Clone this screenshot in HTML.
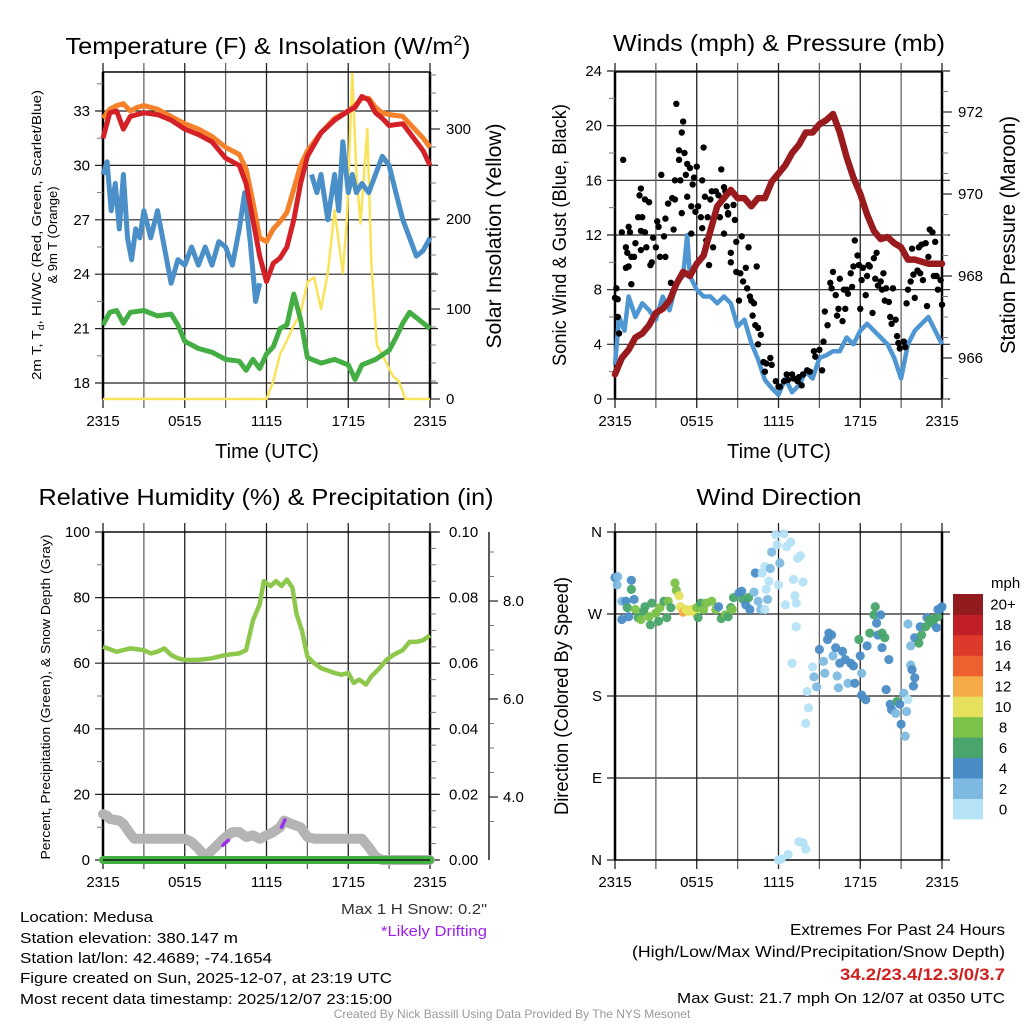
<!DOCTYPE html>
<html><head><meta charset="utf-8"><title>Medusa Meteogram</title>
<style>
html,body{margin:0;padding:0;background:#fff;}
svg{display:block;font-family:"Liberation Sans",Arial,sans-serif;}
</style></head>
<body>
<svg id="fig" width="1024" height="1024" viewBox="0 0 1024 1024" xmlns="http://www.w3.org/2000/svg">
<rect x="0" y="0" width="1024" height="1024" fill="#fff"/>
<!-- Titles -->
<text x="268" y="54" font-size="23" text-anchor="middle" textLength="405" lengthAdjust="spacingAndGlyphs">Temperature (F) &amp; Insolation (W/m<tspan dy="-9" font-size="14">2</tspan><tspan dy="9">)</tspan></text>
<text x="779" y="51" font-size="23" text-anchor="middle" textLength="332" lengthAdjust="spacingAndGlyphs">Winds (mph) &amp; Pressure (mb)</text>
<text x="266" y="505" font-size="23" text-anchor="middle" textLength="455" lengthAdjust="spacingAndGlyphs">Relative Humidity (%) &amp; Precipitation (in)</text>
<text x="779" y="505" font-size="23" text-anchor="middle" textLength="165" lengthAdjust="spacingAndGlyphs">Wind Direction</text>
<!-- Axis titles -->
<text x="267" y="458" font-size="20" text-anchor="middle">Time (UTC)</text>
<text x="779" y="458" font-size="20" text-anchor="middle">Time (UTC)</text>
<text transform="translate(41,235) rotate(-90)" font-size="13" text-anchor="middle" textLength="290" lengthAdjust="spacingAndGlyphs">2m T, T<tspan dy="3" font-size="9">d</tspan><tspan dy="-3">, HI/WC (Red, Green, Scarlet/Blue)</tspan></text>
<text transform="translate(57,235) rotate(-90)" font-size="13" text-anchor="middle">&amp; 9m T (Orange)</text>
<text transform="translate(501,236) rotate(-90)" font-size="21" text-anchor="middle" textLength="225" lengthAdjust="spacingAndGlyphs">Solar Insolation (Yellow)</text>
<text transform="translate(566,235) rotate(-90)" font-size="19" text-anchor="middle" textLength="262" lengthAdjust="spacingAndGlyphs">Sonic Wind &amp; Gust (Blue, Black)</text>
<text transform="translate(1015,235) rotate(-90)" font-size="21" text-anchor="middle" textLength="238" lengthAdjust="spacingAndGlyphs">Station Pressure (Maroon)</text>
<text transform="translate(50,697) rotate(-90)" font-size="13" text-anchor="middle" textLength="325" lengthAdjust="spacingAndGlyphs">Percent, Precipitation (Green), &amp; Snow Depth (Gray)</text>
<text transform="translate(568,696) rotate(-90)" font-size="19" text-anchor="middle" textLength="238" lengthAdjust="spacingAndGlyphs">Direction (Colored By Speed)</text>
<!-- Footer text -->
<g font-size="15">
<text x="20" y="922" textLength="133" lengthAdjust="spacingAndGlyphs">Location: Medusa</text>
<text x="20" y="943" textLength="218" lengthAdjust="spacingAndGlyphs">Station elevation: 380.147 m</text>
<text x="20" y="963" textLength="252" lengthAdjust="spacingAndGlyphs">Station lat/lon: 42.4689; -74.1654</text>
<text x="20" y="983" textLength="372" lengthAdjust="spacingAndGlyphs">Figure created on Sun, 2025-12-07, at 23:19 UTC</text>
<text x="20" y="1004" textLength="372" lengthAdjust="spacingAndGlyphs">Most recent data timestamp: 2025/12/07 23:15:00</text>
</g>
<text x="487" y="914" font-size="15" text-anchor="end" fill="#333" textLength="146" lengthAdjust="spacingAndGlyphs">Max 1 H Snow: 0.2"</text>
<text x="487" y="936" font-size="15" text-anchor="end" fill="#a020f0" textLength="106" lengthAdjust="spacingAndGlyphs">*Likely Drifting</text>
<text x="1005" y="935" font-size="16" text-anchor="end" textLength="215" lengthAdjust="spacingAndGlyphs">Extremes For Past 24 Hours</text>
<text x="1005" y="957" font-size="16" text-anchor="end" textLength="373" lengthAdjust="spacingAndGlyphs">(High/Low/Max Wind/Precipitation/Snow Depth)</text>
<text x="1005" y="980" font-size="17" font-weight="bold" text-anchor="end" fill="#d02020" textLength="165" lengthAdjust="spacingAndGlyphs">34.2/23.4/12.3/0/3.7</text>
<text x="1005" y="1003" font-size="15" text-anchor="end" textLength="328" lengthAdjust="spacingAndGlyphs">Max Gust: 21.7 mph On 12/07 at 0350 UTC</text>
<text x="512" y="1018" font-size="12" text-anchor="middle" fill="#999">Created By Nick Bassill Using Data Provided By The NYS Mesonet</text>
<g id="plots"></g>
</svg>
<script>
// ---- Data ----
const timeTickHours = [0,3,6,9,12,15,18,21,24];
const timeTickLabels = ["2315","","0515","","1115","","1715","","2315"];

const tempHours = [0,0.5,1,1.5,2,2.5,3,4,5,6,7,8,9,10,10.5,11,11.5,12,12.5,13,13.5,14,14.5,15,16,17,18,18.5,19,19.5,20,20.5,21,22,23,23.5,24];
const tempRed   = [31.5,32.9,33.0,32.0,32.7,32.8,32.9,32.8,32.5,32.0,31.7,31.3,30.4,30.0,29.0,27.0,25.0,23.6,24.6,24.9,25.5,27.0,29.0,30.5,31.8,32.5,33.0,33.2,33.8,33.6,32.9,32.6,32.2,32.3,31.3,30.8,30.0];
const tempOrange= [32.6,33.1,33.3,33.4,33.0,33.2,33.3,33.1,32.7,32.3,32.0,31.6,31.0,30.6,29.8,28.0,26.0,25.8,26.5,26.9,27.4,28.7,30.0,30.8,31.8,32.6,33.0,33.3,33.7,33.7,33.2,32.9,32.8,32.7,31.9,31.5,31.0];
const blueHours = [0,0.3,0.6,0.9,1.2,1.5,1.8,2.1,2.4,2.7,3,3.5,4,4.5,5,5.5,6,6.5,7,7.5,8,8.5,9,9.5,10,10.4,10.8,11.2,11.5,11.8,15.3,15.7,16,16.5,17,17.3,17.6,18,18.3,18.6,19,19.5,20,20.5,21,21.5,22,22.5,23,23.5,24];
const tempBlue  = [29.5,30.2,27.5,29.0,26.5,29.5,26.0,24.8,26.5,26.0,27.5,26.0,27.5,25.5,23.5,24.8,24.5,25.5,24.5,25.5,24.5,25.8,25.5,24.5,26.5,28.5,25.8,22.5,23.5,null,29.5,28.5,29.5,27.0,29.5,27.5,31.3,28.5,29.5,28.5,29.0,28.5,29.5,30.5,30.0,28.5,27.0,26.0,25.0,25.3,26.0];
const greenHours= [0,0.5,1,1.5,2,3,4,5,5.5,6,7,8,9,10,10.5,11,11.5,12,12.5,13,13.5,14,14.5,15,16,17,18,18.5,19,20,21,21.5,22,22.5,23,24];
const tempGreen = [21.2,21.9,22.0,21.3,21.9,22.0,21.7,21.8,21.2,20.3,19.9,19.7,19.3,19.2,18.7,19.3,18.8,19.6,20.0,21.0,21.2,22.9,21.5,19.4,19.1,19.3,19.0,18.2,19.0,19.3,19.8,20.5,21.3,21.9,21.6,21.0];
const solarHours = [0,12,12.5,13,13.5,14,14.5,15,15.5,16,16.5,17,17.6,17.9,18.3,18.6,18.9,19.4,19.7,20.1,20.8,21.3,21.7,22.2,24];
const solarVals  = [0,0,20,50,65,82,95,130,135,100,140,210,140,200,363,250,195,300,150,60,40,25,20,0,0];

const windHours = [0,0.3,0.7,1,1.5,2,2.5,3,3.5,4,4.5,5,5.3,5.5,6,6.5,7,7.5,8,8.5,9,9.5,10,10.5,11,11.5,12,12.5,13,13.5,14,14.5,15,15.5,16,16.5,17,17.5,18,18.5,19,19.5,20,20.5,21,21.5,22,22.5,23,23.5,24];
const windVals  = [2.5,6,5,7.5,6,7,6.5,5.8,7.5,6.5,8.5,9,12,9,8,7.5,7.5,7,7.5,7,5.3,5.8,4.1,2.9,1.4,0.8,0.3,1.5,0.5,1,2,1.5,3,3.2,3.5,3.5,4.5,4,5,5.5,5,4.5,4,3,1.5,4,5,5.5,6,5,4];
const presHours = [0,0.5,1,1.5,2,2.5,3,3.5,4,4.5,5,5.5,6,6.5,7,7.5,8,8.5,9,9.5,10,10.5,11,11.5,12,12.5,13,13.5,14,14.5,15,15.5,16,16.5,17,17.5,18,18.5,19,19.5,20,20.5,21,21.5,22,23,24];
const presVals  = [965.6,966.0,966.2,966.5,966.6,966.8,967.1,967.2,967.4,967.8,968.1,968.0,968.3,968.5,969.1,969.7,969.9,970.1,969.9,969.9,969.7,969.9,969.9,970.3,970.5,970.7,971.0,971.2,971.5,971.5,971.7,971.8,971.95,971.5,970.9,970.4,970.0,969.5,969.1,968.9,968.95,968.8,968.7,968.4,968.4,968.3,968.3];
const gustHours = [0,0.1,0.2,0.2,0.3,0.6,0.5,0.8,0.9,1.0,1.1,0.8,1.0,1.2,1.4,1.2,1.5,1.7,1.8,1.9,2.0,1.9,1.9,2.2,2.2,2.5,2.3,2.6,2.7,2.8,3.0,3.1,3.2,3.3,3.4,3.6,3.7,3.7,3.9,4.1,4.2,4.3,4.4,4.4,4.5,4.7,4.7,4.8,4.9,4.9,5.0,5.1,5.2,5.3,5.3,5.5,5.6,5.6,5.7,5.8,5.9,6.0,6.1,6.3,6.4,6.4,6.5,6.6,6.7,6.8,6.9,7.0,7.1,7.2,7.4,7.6,7.7,7.8,8.0,8.0,8.1,8.2,8.3,8.3,8.5,8.5,8.7,8.8,8.9,8.9,9.1,9.2,9.3,9.4,9.6,9.7,9.8,9.9,10.0,10.1,10.2,10.4,10.3,10.5,10.5,10.7,10.9,11.0,11.1,11.4,11.5,11.8,12.0,12.1,12.4,12.6,12.7,13.0,13.1,13.4,13.5,13.7,13.8,14.1,14.3,14.6,14.7,15.0,15.2,15.3,15.4,15.6,15.8,15.9,16.0,16.2,16.3,16.4,16.5,16.7,16.8,16.9,17.0,17.1,17.3,17.4,17.5,17.6,17.8,17.9,18.0,18.1,18.2,18.4,18.5,18.6,18.7,18.9,19.0,19.1,19.2,19.3,19.5,19.6,19.7,19.8,19.9,20.1,20.2,20.3,20.4,20.6,20.7,20.8,20.9,21.2,21.3,21.4,21.5,21.7,21.8,21.9,22.0,22.2,22.3,22.4,22.5,22.6,22.8,22.9,23.0,23.1,23.3,23.4,23.5,23.6,23.7,23.9,24.0];
const gustMph   = [7.4,8.1,7.3,6.0,4.8,17.5,12.2,11.1,10.7,12.6,12.2,9.6,9.7,10.4,10.4,8.4,11.4,13.3,14.9,15.4,13.3,12.3,10.9,12.2,14.6,14.4,11.1,9.8,10.0,11.8,11.1,13.0,12.6,10.4,16.4,11.9,10.4,13.2,14.3,8.5,14.7,12.4,14.6,16.0,21.6,18.2,17.5,16.0,19.5,13.6,20.3,18.0,16.4,14.8,17.2,16.9,14.1,12.1,15.7,16.2,13.7,17.0,14.1,13.3,12.5,16.0,18.4,14.8,11.6,13.3,9.8,14.6,15.2,11.1,15.2,14.9,13.3,16.8,15.5,12.1,15.2,14.1,13.6,13.5,10.7,10.0,14.2,13.1,11.5,9.3,7.2,9.2,11.9,8.6,9.6,8.1,11.1,7.5,7.2,6.1,7.0,9.7,5.4,5.2,4.0,4.7,2.7,2.0,2.6,3.0,2.5,1.3,0.9,0.9,1.3,1.8,1.4,1.8,1.5,1.3,1.6,1.0,1.8,2.1,2.0,3.5,3.1,3.6,2.1,4.2,6.4,5.4,8.5,8.1,9.3,7.6,6.1,6.6,8.8,5.7,8.0,6.6,8.0,7.7,9.2,8.2,9.7,11.6,10.5,9.8,6.6,8.7,9.6,7.6,9.0,9.8,9.7,6.3,10.3,8.8,10.7,8.3,8.6,8.0,9.2,7.2,8.1,7.1,6.0,5.5,8.1,5.8,4.6,4.1,3.7,4.2,3.8,7.0,8.0,8.6,11.0,9.1,7.4,9.4,11.1,9.2,11.3,8.7,11.4,6.8,10.4,12.4,12.2,9.0,11.5,9.0,8.0,8.7,6.9];

const rhHours = [0,1,1.5,2,3,3.5,4,4.5,5,5.5,6,7,8,8.5,9,10,10.5,11,11.5,11.8,12.3,12.7,13.1,13.5,13.9,14.2,14.6,15,15.5,16,17,17.5,18,18.4,18.8,19.3,19.7,20.3,20.8,21.3,22,22.5,23,23.5,24];
const rhVals  = [65,63.5,64,64.5,64,63,63.5,64.5,62.5,61.5,61,61,61.5,62,62.5,63,64,73,78,85,83.5,85,83.5,85.5,83,75,70,62,60,58.5,57,56.5,57,54,55,53.5,56,58.5,61,62.5,64,66.5,66.5,67,68.5];
const snowHours = [0,0.3,0.5,1.2,1.5,2,2.3,3,4,5,6,6.5,7,7.5,8,8.5,9,9.5,10,10.5,11,11.5,12,12.5,13,13.3,13.8,14.5,15,15.5,16,17,18,19,19.5,20,20.5,21,22,23,24];
const snowVals  = [14,13.5,12.5,12,11,8,6.5,6.5,6.5,6.5,6.5,5.5,3.5,1,3,5,7,8.5,8.5,7,7.5,6.5,7.5,8.5,10,12,11,10,7,6.5,6.5,6.5,6.5,6.5,4,1,0,0,0,0,0];
const driftHours = [8.8,9.2,13.1,13.35];
const driftVals  = [4.5,6,10,12.2];
const precipHours = [0,24];
const precipVals  = [0,0];

const dirHours = [0,0.2,0.15,0.5,0.5,0.8,1.0,0.9,1.2,1.2,1.4,1.5,1.7,1.9,2.1,2.2,2.5,2.6,2.7,3.0,3.2,3.3,3.6,3.8,3.9,4.1,4.4,4.5,4.7,4.8,5.0,5.2,5.4,5.6,5.9,6.0,6.1,6.3,6.5,6.7,7.1,7.4,7.6,7.8,8.1,8.3,8.5,8.6,8.7,9.1,9.3,9.4,9.6,9.8,9.9,10.2,10.3,10.5,10.7,10.8,11.0,11.0,11.1,11.2,11.3,11.4,11.5,11.8,11.9,12.0,12.1,12.4,12.5,12.6,12.9,13.1,13.2,13.3,13.3,13.4,13.6,13.8,13.0,14.1,14.2,14.0,14.5,14.6,14.8,15.0,15.3,15.4,15.6,15.7,15.9,16.0,16.2,16.3,16.4,16.5,16.7,16.9,17.1,17.3,17.5,17.6,17.9,18.0,18.1,18.1,18.4,18.5,18.7,19.0,19.1,19.2,19.3,19.5,19.6,19.6,19.8,20.1,19.9,20.2,20.3,20.6,20.7,20.9,21.0,21.2,21.3,21.4,21.5,21.5,21.7,21.7,21.8,21.9,22.0,22.0,22.3,22.4,22.5,22.8,22.9,23.1,23.3,23.4,23.6,23.7,23.7,23.9,24.0,12.0,12.2,12.7,13.5,13.8,14.0];
const dirDeg   = [310,311,302,284,264,284,267,277,307,297,286,275,266,264,273,278,267,258,282,271,262,277,284,266,284,277,304,296,290,278,272,275,273,275,271,277,266,282,275,282,284,275,278,265,269,267,277,275,288,293,295,286,280,288,275,294,315,284,275,315,275,322,297,286,306,320,338,357,346,302,326,358,280,344,349,308,290,282,256,331,334,305,216,185,167,150,212,201,190,231,218,205,242,249,247,224,233,202,189,216,229,220,194,216,213,194,242,224,205,181,176,235,249,269,278,260,247,269,249,233,244,220,187,171,165,161,174,171,149,183,136,163,176,259,235,214,209,191,200,244,238,256,247,256,266,264,260,264,255,267,275,276,278,0,1,6,20,19,12];
const dirSpeed = [5,3,3,3,5,5,5,7,5,7,5,9,7,9,7,7,9,7,7,9,7,9,7,7,9,7,9,9,11,11,13,11,11,11,11,9,7,7,9,9,9,9,5,7,9,7,7,9,7,5,5,7,5,7,5,3,5,3,3,1,1,1,1,3,1,3,3,1,1,1,3,1,1,1,1,1,1,1,1,1,1,1,1,1,1,1,1,3,3,5,3,3,5,5,5,3,5,3,3,5,5,5,3,5,5,5,7,5,3,5,5,5,7,7,7,5,5,5,7,5,7,5,5,5,5,3,7,5,5,3,3,3,1,3,3,3,5,5,5,5,7,5,7,7,5,7,7,7,5,7,5,5,5,1,1,1,1,1,1];
const speedBins = ["0","2","4","6","8","10","12","14","16","18","20+"];
const speedColors = ["#b5e2f5","#7eb9e2","#4a8dc6","#49a56c","#7bc24a","#e6e15c","#f5aa48","#ee6030","#dd3a2b","#c11f27","#921b1d"];

// ---- Drawing ----
const NS = "http://www.w3.org/2000/svg";
const root = document.getElementById("plots");
function el(tag, attrs, parent){
  const e = document.createElementNS(NS, tag);
  for (const k in attrs) e.setAttribute(k, attrs[k]);
  (parent||root).appendChild(e);
  return e;
}
const PW = 327;
const xL = h => 103 + h*PW/24;
const xR = h => 615 + h*PW/24;
const yTemp = v => 111 + (33 - v)*272/15;
const ySolar = v => 399 - v*0.9;
const yWind = v => 399 - v*328/24;
const yPres = v => 358 - (v - 966)*41;
const yRH = v => 860 - v*3.28;
const yDir = d => 860 - d*328/360;

function pathFrom(hours, vals, xf, yf){
  let d = "", pen = false;
  for (let i=0;i<hours.length;i++){
    if (vals[i]===null){ pen=false; continue; }
    d += (pen?"L":"M") + xf(hours[i]).toFixed(1) + "," + yf(vals[i]).toFixed(1);
    pen = true;
  }
  return d;
}

function frame(x0, top, bot, name, yTicks, yLab){
  const g = el("g", {});
  
  
  yTicks.forEach((y,i)=>{
    const ln = el("line",{x1:x0-8,x2:x0+PW+8,y1:y,y2:y,stroke:"#222","stroke-width":1.2},g);
    
    
    const t = el("text",{x:x0-13,y:y+5,"font-size":15,"text-anchor":"end"},g);
    
    
    t.textContent = yLab[i];
  });
  timeTickHours.forEach((h,i)=>{
    const x = x0 + h*PW/24;
    const ln = el("line",{x1:x,x2:x,y1:top-9,y2:bot+9,stroke:(i%2?"#666":"#222"),"stroke-width":1.3},g);
    
    
    if (timeTickLabels[i]){
      const t = el("text",{x:x,y:bot+27,"font-size":15,"text-anchor":"middle"},g);
      
      
      t.textContent = timeTickLabels[i];
    }
  });
  const b = el("rect",{x:x0,y:top,width:PW,height:bot-top,fill:"none",stroke:"#000","stroke-width":1.3},g);
  
  
  el("line",{x1:x0,x2:x0,y1:top,y2:bot,stroke:"#000","stroke-width":2.5},g);
  el("line",{x1:x0+PW,x2:x0+PW,y1:top,y2:bot,stroke:"#000","stroke-width":2.5},g);
  return g;
}
function rightAxis(x, ticks, labels, minors, name, lx){
  const g = el("g",{});
  
  
  minors.forEach(y=>{ el("line",{x1:x,x2:x+6,y1:y,y2:y,stroke:"#777","stroke-width":1},g); });
  ticks.forEach((y,i)=>{
    el("line",{x1:x,x2:x+10,y1:y,y2:y,stroke:"#222","stroke-width":1.2},g);
    const t = el("text",{x:lx,y:y+5,"font-size":15},g);
    
    
    t.textContent = labels[i];
  });
}

// ===== Panel 1: Temperature =====
const tempTicks = [18,21,24,27,30,33];
frame(103,72,399,"temperature",tempTicks.map(yTemp),tempTicks.map(String));
{ const mins=[]; for(let v=19.5; v<35; v+=3) mins.push(yTemp(v));
  mins.forEach(y=>el("line",{x1:97,x2:103,y1:y,y2:y,stroke:"#777","stroke-width":1}));
  const sol=[0,100,200,300]; const sm=[]; for(let v=20; v<=360; v+=20) if(v%100) sm.push(ySolar(v));
  rightAxis(430, sol.map(ySolar), sol.map(String), sm, "solar-axis", 446); }
let p;
p = el("path",{d:pathFrom(solarHours,solarVals,xL,ySolar),fill:"none",stroke:"#f9e35a","stroke-width":2.5,"stroke-linejoin":"round"});


p = el("path",{d:pathFrom(greenHours,tempGreen,xL,yTemp),fill:"none",stroke:"#44ad44","stroke-width":5,"stroke-linejoin":"round"});


p = el("path",{d:pathFrom(blueHours,tempBlue,xL,yTemp),fill:"none",stroke:"#4a8fc8","stroke-width":5,"stroke-linejoin":"round"});


p = el("path",{d:pathFrom(tempHours,tempOrange,xL,yTemp),fill:"none",stroke:"#f5822a","stroke-width":5,"stroke-linejoin":"round"});


p = el("path",{d:pathFrom(tempHours,tempRed,xL,yTemp),fill:"none",stroke:"#d42027","stroke-width":5,"stroke-linejoin":"round"});


el("line",{x1:103,x2:430,y1:72,y2:72,stroke:"#000","stroke-width":1.3});

// ===== Panel 2: Winds =====
const windTicks=[0,4,8,12,16,20,24];
frame(615,72,399,"wind",windTicks.map(yWind),windTicks.map(String));
{ const mins=[]; for(let v=2; v<24; v+=4) mins.push(yWind(v));
  mins.forEach(y=>el("line",{x1:609,x2:615,y1:y,y2:y,stroke:"#777","stroke-width":1}));
  const pt=[966,968,970,972]; const pm=[]; for(let v=965.0; v<=972.9; v+=0.5) if(Math.abs(v%2)>0.01 && yPres(v)>=72 && yPres(v)<=399) pm.push(yPres(v));
  rightAxis(942, pt.map(yPres), pt.map(String), pm, "pressure-axis", 958); }
p = el("path",{d:pathFrom(windHours,windVals,xR,yWind),fill:"none",stroke:"#4f97d3","stroke-width":4.5,"stroke-linejoin":"round"});


{ const g = el("g",{});
  
  
  gustHours.forEach((h,i)=>{
    const c = el("circle",{cx:xR(h),cy:yWind(gustMph[i]),r:3.2,fill:"#000"},g);
    
    
  }); }
p = el("path",{d:pathFrom(presHours,presVals,xR,yPres),fill:"none",stroke:"#9a1b1e","stroke-width":6.5,"stroke-linejoin":"round","stroke-linecap":"round"});



// ===== Panel 3: RH =====
const rhTicks=[0,20,40,60,80,100];
frame(103,532,860,"humidity",rhTicks.map(yRH),rhTicks.map(String));
{ const mins=[]; for(let v=10; v<100; v+=20) mins.push(yRH(v));
  mins.forEach(y=>el("line",{x1:97,x2:103,y1:y,y2:y,stroke:"#777","stroke-width":1}));
  const pr=[0,0.02,0.04,0.06,0.08,0.10]; const pm=[]; for(let v=0.005; v<0.1; v+=0.005) if(Math.round(v*1000)%20) pm.push(yRH(v*1000));
  rightAxis(430, pr.map(v=>yRH(v*1000)), pr.map(v=>v.toFixed(2)), pm, "precip-axis", 449);
  const g = el("g",{});
  
  
  el("line",{x1:489,x2:489,y1:532,y2:860,stroke:"#222","stroke-width":1.5},g);
  const ySnow = v => 601 + (8 - v)*49;
  [4,6,8].forEach(v=>{
    el("line",{x1:489,x2:498,y1:ySnow(v),y2:ySnow(v),stroke:"#222","stroke-width":1.2},g);
    const t = el("text",{x:503,y:ySnow(v)+5,"font-size":15},g);
    
    
    t.textContent = v.toFixed(1);
  });
  for (let v=3.5; v<=9.4; v+=0.5) if (v%2) el("line",{x1:489,x2:494,y1:ySnow(v),y2:ySnow(v),stroke:"#777","stroke-width":1},g);
}
p = el("path",{d:pathFrom(snowHours,snowVals,xL,yRH),fill:"none",stroke:"#b4b4b4","stroke-width":10,"stroke-linejoin":"round","stroke-linecap":"round"});


for (let i=0;i<driftHours.length;i+=2){
  const d = el("line",{x1:xL(driftHours[i]),y1:yRH(driftVals[i]),x2:xL(driftHours[i+1]),y2:yRH(driftVals[i+1]),stroke:"#9b30e8","stroke-width":3.5,"stroke-linecap":"round"});
  
  
}
p = el("path",{d:pathFrom(precipHours,precipVals,xL,yRH),fill:"none",stroke:"#46b046","stroke-width":8,"stroke-linecap":"round"});


p = el("path",{d:pathFrom(rhHours,rhVals,xL,yRH),fill:"none",stroke:"#8dc84c","stroke-width":4.5,"stroke-linejoin":"round"});


el("line",{x1:103,x2:430,y1:860,y2:860,stroke:"#000","stroke-width":1.3});

// ===== Panel 4: Wind direction =====
const dirTicks=[0,90,180,270,360];
frame(615,532,860,"direction",dirTicks.map(yDir),["N","E","S","W","N"]);
{ const g = el("g",{});
  
  
  dirHours.forEach((h,i)=>{
    const bin = Math.min(10, Math.floor(dirSpeed[i]/2));
    const c = el("circle",{cx:xR(h),cy:yDir(dirDeg[i]),r:4.6,fill:speedColors[bin],"fill-opacity":0.95},g);
    
    
  }); }
// colorbar: 11 swatches, bottom = "0", top = "20+"
{ const g = el("g",{});
  
  
  const t0 = el("text",{x:991,y:588,"font-size":15},g);
  
  
  t0.textContent = "mph";
  const top=594, bh=225/11;
  speedColors.forEach((c,i)=>{
    const y = top + (10-i)*bh;
    const r = el("rect",{x:953,y:y,width:30,height:bh+0.4,fill:c},g);
    
    
    const t = el("text",{x:1003,y:y+bh/2+5.5,"font-size":15,"text-anchor":"middle"},g);
    
    
    t.textContent = speedBins[i];
  });
}
</script>
</body></html>
